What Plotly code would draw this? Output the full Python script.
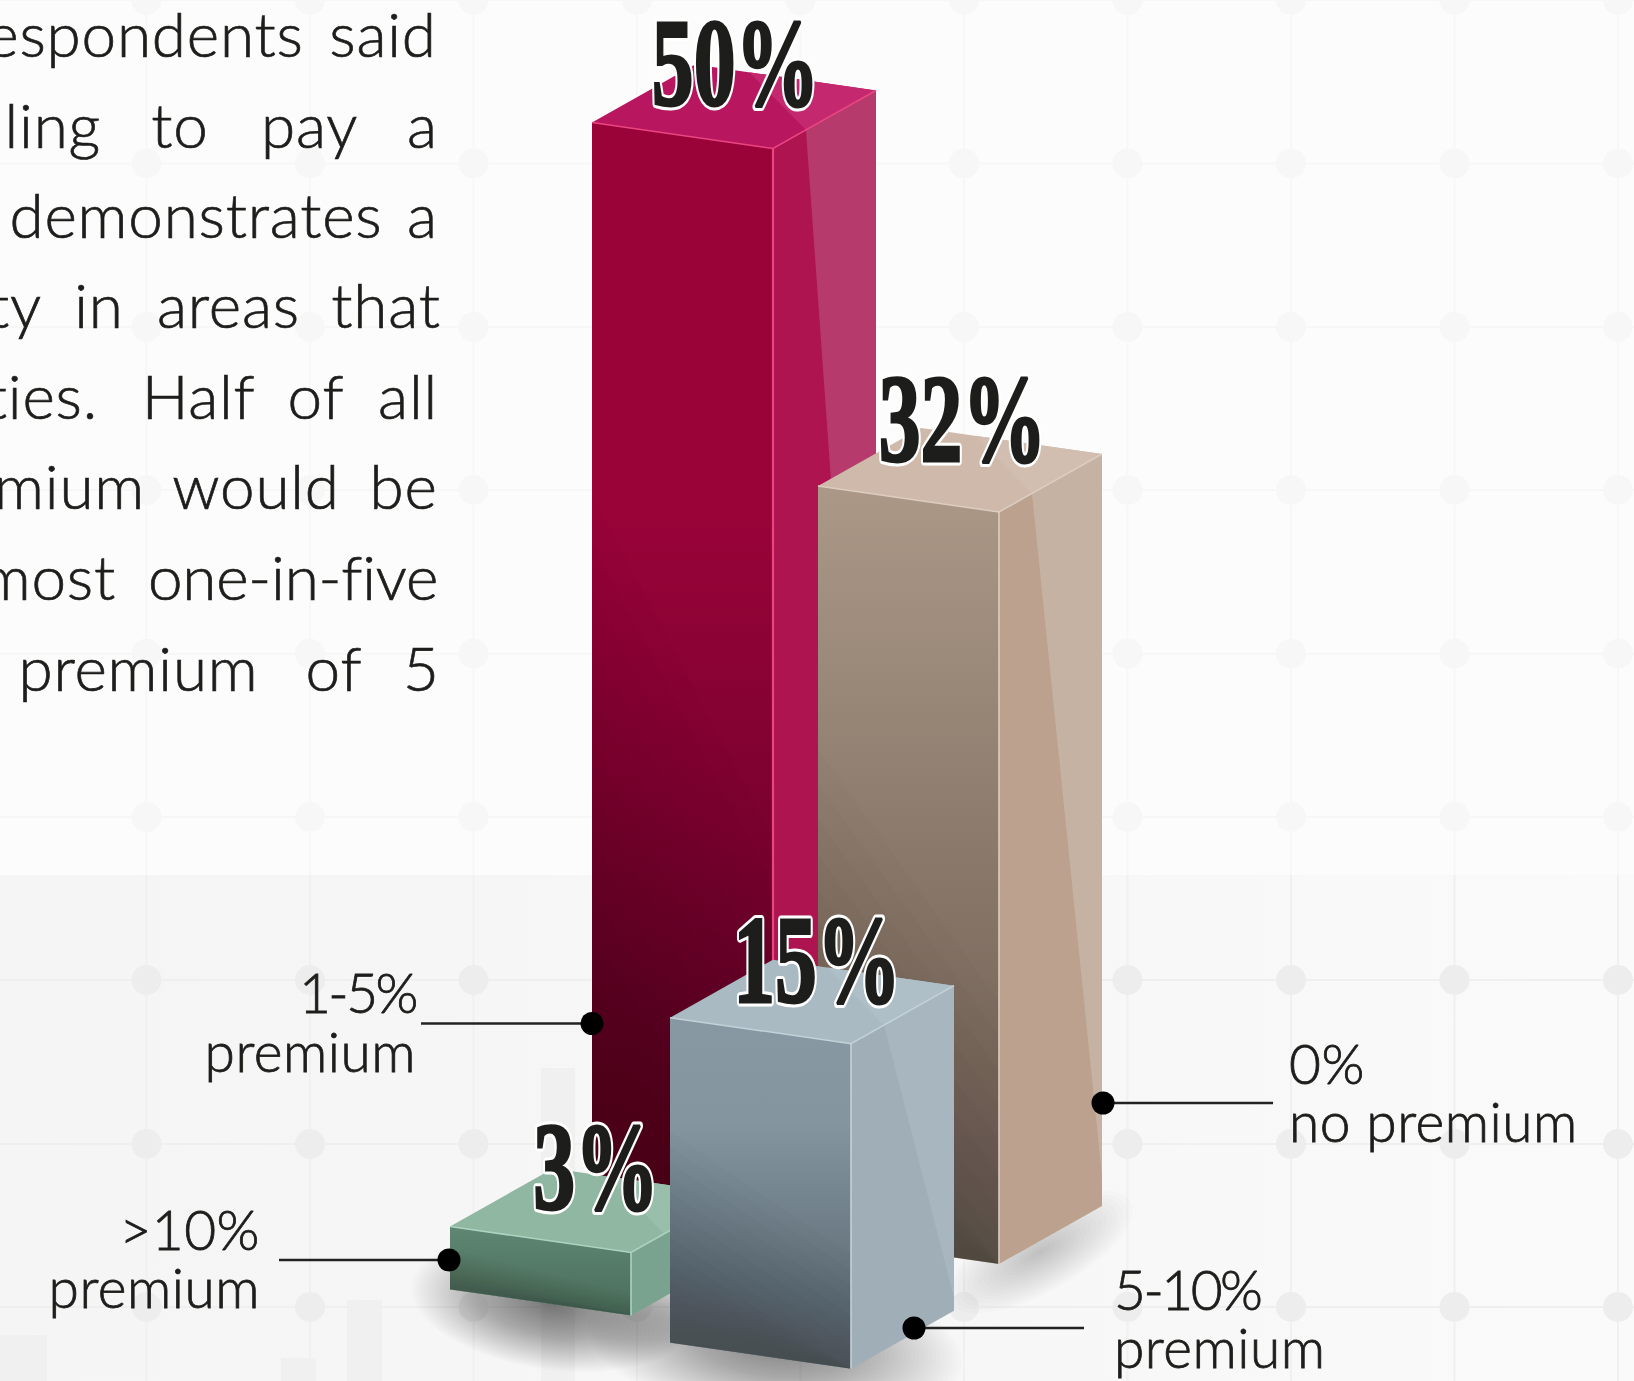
import math
import plotly.graph_objects as go

# Survey shares, one block per premium band
BAND_LINES = [["1-5%", "premium"], ["0%", "no premium"], ["5-10%", "premium"], [">10%", "premium"]]
SHARES = [50, 32, 15, 3]

# Paragraph words, line by line
BODY_WORDS = [
    ["respondents", "said"],
    ["willing", "to", "pay", "a"],
    ["demonstrates", "a"],
    ["ty", "in", "areas", "that"],
    ["ties.", "Half", "of", "all"],
    ["premium", "would", "be"],
    ["almost", "one-in-five"],
    ["premium", "of", "5"],
]

# ----- page geometry, in canvas pixels -----
W, H = 1634, 1381
GRID_X = [146.5, 310, 473.5, 637, 800.5, 964, 1127.5, 1291, 1454.5, 1618]
GRID_Y = [0, 163.5, 327, 490, 653.7, 817, 980, 1144, 1307]
BAND_TOP = 875
EDGE_W = (181, 26)
EDGE_D = (103, -58)
BASES = [(592, 1184.5), (818, 1238), (670, 1342.7), (450, 1289.5)]
PX_PER_POINT = [21.24, 23.5, 21.67, 21.0]
DRAW_ORDER = [0, 1, 3, 2]
LABEL_LIFT = [33, 40, 31, 33]
LABEL_NUDGE = [1.5, 2.5, 5, 4]

STYLES = [
    dict(front=["#990338", "#990338", "#540021"], stops=[0, .36, 1], side="#ad1450", lit="#b63a6c",
         top="#b91660", toplit="#c4296f", edge="#ea4580", edge_w=2.2),
    dict(front=["#ab9887", "#66574c"], stops=[0, 1], side="#bca28e", lit="#c6b2a2",
         top="#cfb9aa", toplit="#d2beb0", edge="#dccdc0", edge_w=1.6),
    dict(front=["#8798a2", "#84959f", "#515e66"], stops=[0, .3, 1], side="#a0afb7", lit="#a7b6bf",
         top="#a9bac3", toplit="#aebfc7", edge="#c4d2d9", edge_w=1.6),
    dict(front=["#5f8673", "#486e5b"], stops=[0, 1], side="#7aa38f", lit="#7aa38f",
         top="#8fb7a2", toplit="#98bfaa", edge="#add3c0", edge_w=1.6),
]

# Callouts: dot, line end, text anchor, first and second baseline
CALLOUTS = [
    dict(dot=(592, 1023.5), end=421, tx=416, anchor="middle left", base=(1012, 1071)),
    dict(dot=(1103, 1103), end=1273, tx=1289, anchor="middle right", base=(1083, 1141)),
    dict(dot=(914, 1328), end=1084, tx=1114, anchor="middle right", base=(1309, 1367)),
    dict(dot=(449, 1260), end=279, tx=260, anchor="middle left", base=(1249, 1307)),
]
CALLOUT_SIZE = 55

BODY_SIZE = 62
BODY_BASELINES = [58, 149, 239, 329, 420, 510, 601, 692]
# (position, mode): "r" anchors a word's right end, "c" its centre
BODY_PLACES = [
    [(303.6, "r"), (383, "c")],
    [(101, "r"), (180, "c"), (309.5, "c"), (422.5, "c")],
    [(196, "c"), (422.5, "c")],
    [(42, "r"), (99, "c"), (228.5, "c"), (386, "c")],
    [(98, "r"), (198.5, "c"), (316, "c"), (408, "c")],
    [(145, "r"), (256, "c"), (403.5, "c")],
    [(116, "r"), (293, "c")],
    [(138.5, "c"), (334, "c"), (421.5, "c")],
]

FAINT_BARS = [(0, 47, 1335), (281, 316, 1358), (347, 382, 1300), (541, 575, 1068)]

# Soft ground shadows: centre, largest radii, tilt in degrees, layers
SHADOWS = [
    dict(c=(1040, 1252), r=(104, 40), tilt=-29, n=18),
    dict(c=(552, 1304), r=(142, 66), tilt=8, n=50),
    dict(c=(775, 1345), r=(188, 76), tilt=6, n=44),
]
LAYER_ALPHA = 0.01
FRONT_WEDGES = 13

fig = go.Figure()


def poly(points, color=None, gradient=None):
    xs = [p[0] for p in points] + [points[0][0]]
    ys = [p[1] for p in points] + [points[0][1]]
    kw = dict(fillgradient=gradient) if gradient else dict(fillcolor=color)
    fig.add_trace(go.Scatter(x=xs, y=ys, mode="lines", fill="toself", line=dict(width=0),
                             hoverinfo="skip", showlegend=False, **kw))


def stroke(xs, ys, color, width):
    fig.add_trace(go.Scatter(x=xs, y=ys, mode="lines", line=dict(color=color, width=width),
                             hoverinfo="skip", showlegend=False))


def shift(p, v):
    return (p[0] + v[0], p[1] + v[1])


def lerp(a, b, t):
    return (a[0] + (b[0] - a[0]) * t, a[1] + (b[1] - a[1]) * t)


def ellipse(c, rx, ry, tilt, steps=48):
    ang = math.radians(tilt)
    pts = []
    for i in range(steps):
        t = 2 * math.pi * i / steps
        ex, ey = rx * math.cos(t), ry * math.sin(t)
        pts.append((c[0] + ex * math.cos(ang) - ey * math.sin(ang),
                    c[1] + ex * math.sin(ang) + ey * math.cos(ang)))
    return pts


# ----- backdrop -----
poly([(0, 0), (W, 0), (W, H), (0, H)], "#fcfcfc")
poly([(0, BAND_TOP), (W, BAND_TOP), (W, H), (0, H)],
     gradient=dict(type="horizontal", start=0, stop=W,
                   colorscale=[[0, "#f5f5f5"], [.6, "#f7f7f7"], [1, "#fafafa"]]))
for x0, x1, y0 in FAINT_BARS:
    poly([(x0, y0), (x1, y0), (x1, H), (x0, H)], "#f0f0f0")

for gx in GRID_X:
    stroke([gx, gx], [0, BAND_TOP], "#f7f7f7", 2)
    stroke([gx, gx], [BAND_TOP, H], "#f0f0f0", 2)
for gy in GRID_Y:
    stroke([0, W], [gy, gy], "#f7f7f7" if gy < BAND_TOP else "#efefef", 2)
dots_top = [(gx, gy) for gx in GRID_X for gy in GRID_Y if gy < BAND_TOP]
dots_low = [(gx, gy) for gx in GRID_X for gy in GRID_Y if gy > BAND_TOP]
for dots, col in ((dots_top, "#f7f7f7"), (dots_low, "#ededed")):
    fig.add_trace(go.Scatter(x=[d[0] for d in dots], y=[d[1] for d in dots], mode="markers",
                             marker=dict(size=30, color=col, line=dict(width=0)),
                             hoverinfo="skip", showlegend=False))

# ----- ground shadows, built from stacked translucent ellipses -----
for sh in SHADOWS:
    for k in range(sh["n"], 0, -1):
        frac = k / sh["n"]
        poly(ellipse(sh["c"], sh["r"][0] * frac, sh["r"][1] * frac, sh["tilt"]),
             f"rgba(0,0,0,{LAYER_ALPHA})")

# ----- bars -----
tops = {}
for idx in DRAW_ORDER:
    st = STYLES[idx]
    fl_b = BASES[idx]
    height = SHARES[idx] * PX_PER_POINT[idx]
    fl_t = (fl_b[0], fl_b[1] - height)
    fr_t = shift(fl_t, EDGE_W)
    fr_b = shift(fl_b, EDGE_W)
    r_t = shift(fr_t, EDGE_D)
    r_b = shift(fr_b, EDGE_D)
    b_t = shift(fl_t, EDGE_D)
    tops[idx] = ((fl_t[0] + r_t[0]) / 2, (fl_t[1] + r_t[1]) / 2)

    poly([fl_t, fr_t, fr_b, fl_b],
         gradient=dict(type="vertical", start=fl_t[1], stop=fr_b[1],
                       colorscale=[[s, c] for s, c in zip(st["stops"], st["front"])]))
    # slanted wedges deepen the lower-left corner of the front face
    for k in range(FRONT_WEDGES):
        f = .35 + .6 * k / FRONT_WEDGES
        poly([lerp(fl_t, fl_b, f), lerp(fr_t, fr_b, min(1, f + .3)), fr_b, fl_b],
             f"rgba(0,0,0,{LAYER_ALPHA})")
    poly([fr_t, r_t, r_b, fr_b], st["side"])
    crease = lerp(fr_t, r_t, .32)
    poly([crease, r_t, lerp(r_t, r_b, .96)], st["lit"])
    poly([fl_t, fr_t, r_t, b_t], st["top"])
    poly([crease, lerp(b_t, r_t, .3), r_t], st["toplit"])
    stroke([fl_t[0], fr_t[0], r_t[0]], [fl_t[1], fr_t[1], r_t[1]], st["edge"], 1.5)
    stroke([fr_t[0], fr_b[0]], [fr_t[1], fr_b[1]], st["edge"], st["edge_w"])

# ----- paragraph -----
for words, places, base in zip(BODY_WORDS, BODY_PLACES, BODY_BASELINES):
    fig.add_trace(go.Scatter(
        x=[p[0] for p in places], y=[base - BODY_SIZE * .26] * len(words), text=words, mode="text",
        textposition=["middle left" if p[1] == "r" else "middle center" for p in places],
        textfont=dict(family="Lato", size=BODY_SIZE, color="#1d1d1b", weight=300),
        hoverinfo="skip", showlegend=False, cliponaxis=False))

# ----- callouts -----
for lines, co in zip(BAND_LINES, CALLOUTS):
    stroke([co["dot"][0], co["end"]], [co["dot"][1], co["dot"][1]], "#222222", 2.4)
    fig.add_trace(go.Scatter(x=[co["dot"][0]], y=[co["dot"][1]], mode="markers",
                             marker=dict(size=23, color="#000000", line=dict(width=0)),
                             hoverinfo="skip", showlegend=False))
    fig.add_trace(go.Scatter(
        x=[co["tx"], co["tx"]], y=[b - CALLOUT_SIZE * .24 for b in co["base"]], text=lines, mode="text",
        textposition=co["anchor"],
        textfont=dict(family="Lato", size=CALLOUT_SIZE, color="#1d1d1b", weight=300),
        hoverinfo="skip", showlegend=False, cliponaxis=False))

# ----- value labels -----
for idx in range(len(SHARES)):
    cx, cy = tops[idx]
    fig.add_trace(go.Scatter(
        x=[cx + LABEL_NUDGE[idx]], y=[cy - LABEL_LIFT[idx]], text=[f"{SHARES[idx]}%"], mode="text",
        textposition="middle center",
        textfont=dict(family="Liberation Sans Narrow", size=125, color="#1d1d1b", weight=700),
        hoverinfo="skip", showlegend=False, cliponaxis=False))

fig.update_layout(
    width=W, height=H, margin=dict(l=0, r=0, t=0, b=0), autosize=False,
    paper_bgcolor="#fcfcfc", plot_bgcolor="#fcfcfc", showlegend=False,
    xaxis=dict(range=[0, W], visible=False, fixedrange=True),
    yaxis=dict(range=[H, 0], visible=False, fixedrange=True),
)

# Narrows the big value labels, gives them a white keyline, and firms up the light text
POST = """
document.querySelectorAll('.textpoint text').forEach(function (t) {
  var size = parseFloat(t.style.fontSize);
  var word = t.textContent;
  if (size < 100) {
    var spacing = size > 60 ? 0.8 : 0.5;
    if (word === 'one-in-five') spacing = -0.2;
    if (/^[0-9]+-[0-9]+%$/.test(word)) spacing = -2.5;
    t.style.letterSpacing = spacing + 'px';
    t.style.stroke = '#1d1d1b';
    t.style.strokeWidth = size > 60 ? '0.7px' : '0.8px';
    return;
  }
  var cx = parseFloat(t.getAttribute('x'));
  var prior = t.getAttribute('transform') || '';
  var squeeze = 'translate(' + cx + ',0) scale(0.67,1) translate(' + (-cx) + ',0) ';
  t.setAttribute('transform', squeeze + prior);
  var halo = t.cloneNode(true);
  halo.style.stroke = '#ffffff';
  halo.style.strokeWidth = '9px';
  halo.style.strokeLinejoin = 'round';
  t.parentNode.insertBefore(halo, t);
  t.style.stroke = '#1d1d1b';
  t.style.strokeWidth = '3px';
});
"""

fig.write_html("out.html", post_script=POST, config=dict(displayModeBar=False))
